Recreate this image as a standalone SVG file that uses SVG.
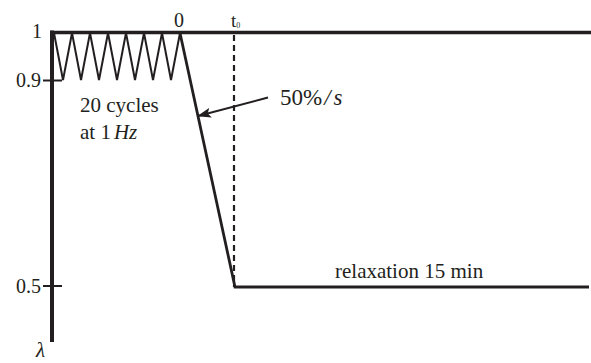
<svg xmlns="http://www.w3.org/2000/svg" width="591" height="363" viewBox="0 0 591 363">
<style>
text{font-family:'Liberation Serif','Tinos','DejaVu Serif','Noto Serif',serif;fill:#231f20}
.ax{stroke:#231f20;fill:none;stroke-linecap:butt}
.it{font-style:italic}
</style>
<defs>
<marker id="ah" markerWidth="14" markerHeight="10" refX="13" refY="5" orient="auto" markerUnits="userSpaceOnUse">
<path d="M0,0 L14,5 L0,10 L3,5 Z" fill="#231f20"/>
</marker>
</defs>
<rect width="591" height="363" fill="#fff"/>
<g id="axes">
<line class="ax" x1="52" y1="30.5" x2="52" y2="342" stroke-width="4"/>
<line class="ax" x1="50" y1="32.5" x2="591" y2="32.5" stroke-width="3.5"/>
<line class="ax" x1="43" y1="80.5" x2="62" y2="80.5" stroke-width="2"/>
<line class="ax" x1="43" y1="286" x2="62" y2="286" stroke-width="2"/>
<text x="42" y="38" font-size="20" text-anchor="end">1</text>
<text x="41" y="87" font-size="20" text-anchor="end">0.9</text>
<text x="41" y="293" font-size="20" text-anchor="end">0.5</text>
<text x="36" y="357" font-size="21" class="it">λ</text>
<text x="179" y="27" font-size="20" text-anchor="middle">0</text>
<text x="231" y="27" font-size="19">t<tspan font-size="8" dy="1">0</tspan></text>
</g>
<g id="cycles">
<polyline class="ax" stroke-width="2" stroke-linejoin="miter" points="54,33 63,80 72,33 81,80 90,33 99,80 108,33 117,80 126,33 135,80 144,33 153,80 162,33 171,80 180,33"/>
<text x="80" y="112" font-size="21">20 cycles</text>
<text x="80" y="139" font-size="21">at 1<tspan class="it" dx="3">Hz</tspan></text>
</g>
<g id="ramp">
<polyline class="ax" stroke-width="2.8" points="180,33 235,287 589,287"/>
<line class="ax" x1="234" y1="35" x2="234" y2="287" stroke-width="2.2" stroke-dasharray="6,4"/>
</g>
<g id="connectors">
<line class="ax" x1="268" y1="97.5" x2="198" y2="116" stroke-width="2" marker-end="url(#ah)"/>
</g>
<g id="labels">
<text x="280" y="105" font-size="23">50%<tspan class="it" dx="2">/</tspan><tspan class="it" dx="3">s</tspan></text>
<text x="335" y="278" font-size="21">relaxation 15 min</text>
</g>
</svg>
